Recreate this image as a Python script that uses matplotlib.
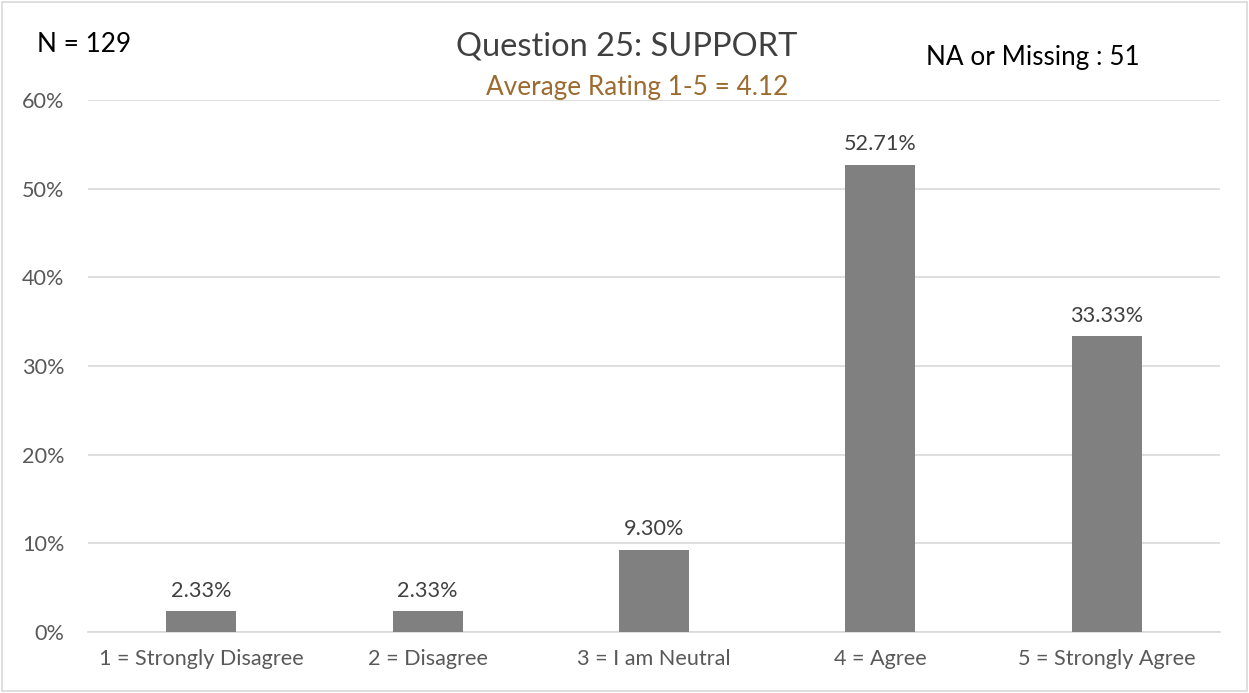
import matplotlib
matplotlib.use("Agg")
import matplotlib.pyplot as plt
from matplotlib.patches import Rectangle

categories = ["1 = Strongly Disagree", "2 = Disagree", "3 = I am Neutral", "4 = Agree", "5 = Strongly Agree"]
values = [2.33, 2.33, 9.30, 52.71, 33.33]
yticks = [0, 10, 20, 30, 40, 50, 60]

plt.rcParams["font.family"] = ["Lato", "DejaVu Sans"]
text_col = "#595959"

fig = plt.figure(figsize=(12.49, 6.93), dpi=100)
ax = fig.add_axes([88 / 1249, 1 - 632 / 693, (1220 - 88) / 1249, (632 - 100) / 693])

x = range(len(categories))
ax.bar(x, values, width=0.31, color="#808080", zorder=3)
for xi, v in zip(x, values):
    ax.text(xi, v + 1.2, f"{v:.2f}%", ha="center", va="bottom", fontsize=15.6, color="#404040")

ax.set_xlim(-0.5, len(categories) - 0.5)
ax.set_ylim(0, 60)
ax.set_yticks(yticks)
ax.set_yticklabels([f"{t}%" for t in yticks])
ax.set_xticks(list(x))
ax.set_xticklabels(categories)
ax.tick_params(axis="both", length=0, labelsize=15.6, labelcolor=text_col)
ax.tick_params(axis="y", pad=17)
ax.tick_params(axis="x", pad=12)
ax.grid(axis="y", color="#d9d9d9", linewidth=1.2, zorder=0)
for s in ["top", "right", "left"]:
    ax.spines[s].set_visible(False)
ax.spines["bottom"].set_color("#d9d9d9")
ax.spines["bottom"].set_linewidth(1.2)

fig.text(627 / 1249, 1 - 46 / 693, "Question 25: SUPPORT", ha="center", va="center", fontsize=23.5, color="#404040")
fig.text(637 / 1249, 1 - 88 / 693, "Average Rating 1-5 = 4.12", ha="center", va="center", fontsize=18.8, color="#9c6b2f")
fig.text(37 / 1249, 1 - 45 / 693, "N = 129", ha="left", va="center", fontsize=18.8, color="black")
fig.text(926 / 1249, 1 - 58 / 693, "NA or Missing : 51", ha="left", va="center", fontsize=18.8, color="black")

fig.patches.append(Rectangle((0.002, 0.003), 0.996, 0.994, transform=fig.transFigure,
                             fill=False, edgecolor="#d9d9d9", linewidth=1.2))

fig.savefig("out.png", dpi=100, facecolor="white")
